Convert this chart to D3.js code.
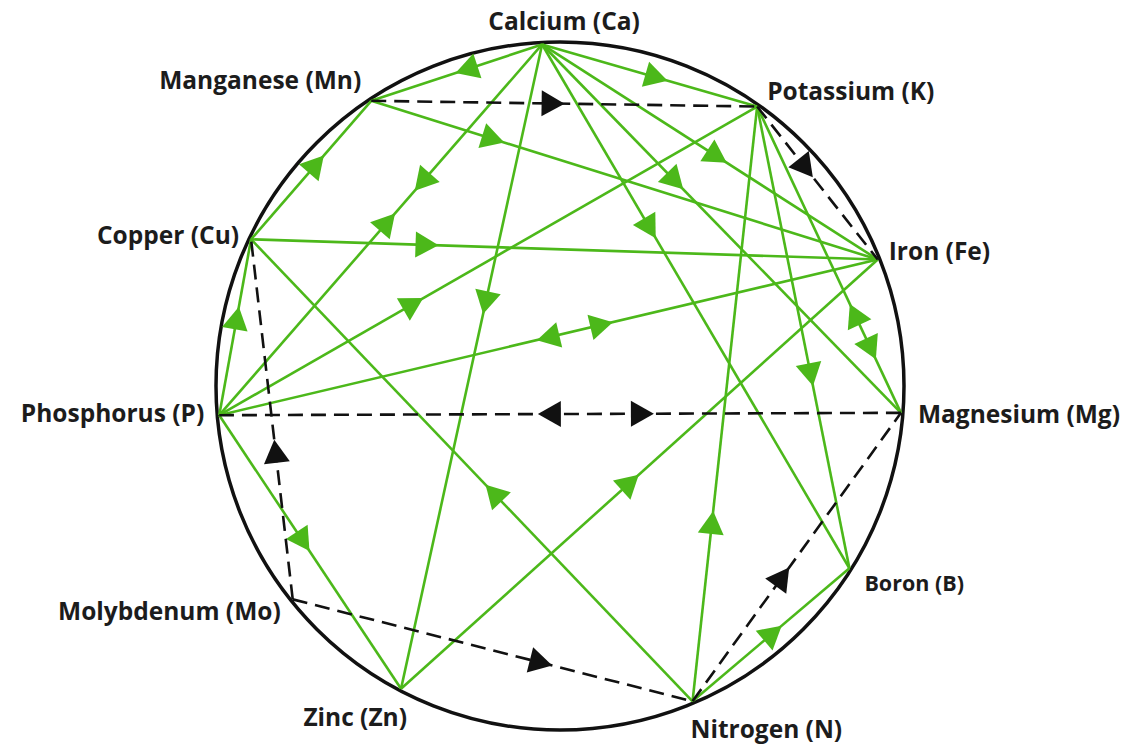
<!DOCTYPE html>
<html>
<head>
<meta charset="utf-8">
<script src="https://cdn.jsdelivr.net/npm/d3@7"></script>
<style>
  body { margin: 0; background: #fff; }
  text { font-family: "Open Sans", sans-serif; font-weight: 700; fill: #1c1c1c; }
</style>
</head>
<body>
<svg id="chart"></svg>
<script>
// nutrients and where they sit on the wheel (degrees, clockwise from top)
var nutrients = ["Ca", "K", "Fe", "Mg", "B", "N", "Zn", "Mo", "P", "Cu", "Mn"];
var names = ["Calcium (Ca)", "Potassium (K)", "Iron (Fe)", "Magnesium (Mg)", "Boron (B)",
             "Nitrogen (N)", "Zinc (Zn)", "Molybdenum (Mo)", "Phosphorus (P)", "Copper (Cu)", "Manganese (Mn)"];
var angles = [-3, 35.2, 68.3, 94.5, 122.2, 157.2, 207.7, 231.4, 265.1, 295.4, 326.5];

// antagonism (green): [from, to, fraction along the chord where the arrow sits]
var antagonism = [
  ["Ca", "Mn", 0.44], ["Ca", "K", 0.53], ["Ca", "Fe", 0.52], ["Ca", "Mg", 0.37],
  ["Ca", "B", 0.35], ["Ca", "Zn", 0.40], ["Ca", "P", 0.37], ["P", "Ca", 0.52],
  ["Mn", "Fe", 0.24], ["Cu", "Mn", 0.54], ["Cu", "Fe", 0.28], ["N", "Cu", 0.45],
  ["P", "Cu", 0.55], ["P", "K", 0.36], ["Fe", "P", 0.50], ["P", "Fe", 0.58],
  ["P", "Zn", 0.46], ["Zn", "Fe", 0.48], ["K", "B", 0.58], ["Mg", "K", 0.32],
  ["K", "Mg", 0.79], ["N", "K", 0.30], ["N", "B", 0.51]
];

// stimulation (black dashed)
var stimulation = [
  ["Mn", "K", 0.47], ["K", "Fe", 0.40], ["Mg", "P", 0.515], ["P", "Mg", 0.62],
  ["Mo", "Cu", 0.41], ["Mo", "N", 0.62], ["N", "Mg", 0.43]
];

// label placement relative to each node
var labelLayout = {
  Ca: [22, -23, "middle"], K: [10, -15, "start"], Fe: [11, -8, "start"],
  Mg: [17, 2, "start"], B: [15, 15, "start"], N: [-2, 28, "start"],
  Zn: [6, 29, "end"], Mo: [-12, 12, "end"], P: [-15, -2, "end"],
  Cu: [-12, -4, "end"], Mn: [-10, -20, "end"]
};

var width = 1140, height = 744,
    cx = 560, cy = 386, r = 344;

var green = "#4cb81a";

var svg = d3.select("#chart")
    .attr("width", width)
    .attr("height", height);

var angle = d3.scaleLinear().domain([0, 360]).range([0, 2 * Math.PI]);

var pos = {};
nutrients.forEach(function(n, i) {
    var p = d3.pointRadial(angle(angles[i]), r - 2);
    pos[n] = [cx + p[0], cy + p[1]];
});

svg.append("circle")
    .attr("cx", cx)
    .attr("cy", cy)
    .attr("r", r)
    .style("fill", "none")
    .style("stroke", "#111")
    .style("stroke-width", 3.5);

function key(d) { return [d[0], d[1]].sort().join("-"); }

function chords(data, cls, color, dash) {
    var pairs = d3.groups(data, key).map(function(g) { return g[1][0]; });
    var g = svg.append("g").attr("class", cls);
    g.selectAll("line")
        .data(pairs)
        .enter().append("line")
        .attr("x1", function(d) { return pos[d[0]][0]; })
        .attr("y1", function(d) { return pos[d[0]][1]; })
        .attr("x2", function(d) { return pos[d[1]][0]; })
        .attr("y2", function(d) { return pos[d[1]][1]; })
        .style("stroke", color)
        .style("stroke-width", 2.6)
        .style("stroke-dasharray", dash);
    return g;
}

function arrows(g, data, color) {
    g.selectAll("path.arrow")
        .data(data)
        .enter().append("path")
        .attr("class", "arrow")
        .attr("d", function(d) {
            var a = pos[d[0]], b = pos[d[1]];
            var x = a[0] + (b[0] - a[0]) * d[2],
                y = a[1] + (b[1] - a[1]) * d[2];
            var len = Math.hypot(b[0] - a[0], b[1] - a[1]);
            var ux = (b[0] - a[0]) / len, uy = (b[1] - a[1]) / len;
            var tip = [x + ux * 12, y + uy * 12],
                back = [x - ux * 11, y - uy * 11],
                hw = 13;
            return "M" + tip + "L" + [back[0] - uy * hw, back[1] + ux * hw] +
                   "L" + [back[0] + uy * hw, back[1] - ux * hw] + "Z";
        })
        .style("fill", color);
}

var gGreen = chords(antagonism, "antagonism", green, null);
var gBlack = chords(stimulation, "stimulation", "#111", "15,8");
arrows(gGreen, antagonism, green);
arrows(gBlack, stimulation, "#111");

svg.append("g").attr("class", "labels")
    .selectAll("text")
    .data(nutrients)
    .enter().append("text")
    .attr("x", function(n) { return pos[n][0] + labelLayout[n][0]; })
    .attr("y", function(n) { return pos[n][1] + labelLayout[n][1]; })
    .attr("dy", "0.35em")
    .attr("text-anchor", function(n) { return labelLayout[n][2]; })
    .style("font-size", function(n) { return n === "B" ? "21.5px" : "24.5px"; })
    .text(function(n, i) { return names[i]; });
</script>
</body>
</html>
